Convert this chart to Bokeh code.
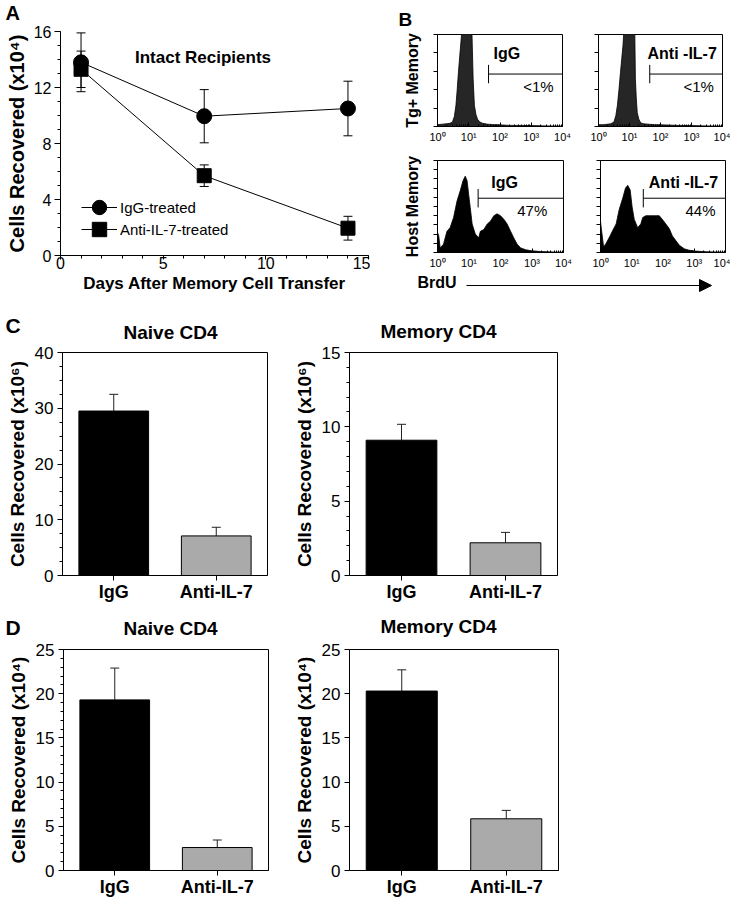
from bokeh.plotting import figure
from bokeh.layouts import row, column
from bokeh.models import (Range1d, FactorRange, SingleIntervalTicker, FixedTicker, Whisker, TeeHead,
                          Label, Legend, LegendItem, Arrow, NormalHead, ColumnDataSource,
                          CustomJSTickFormatter)
from bokeh.embed import file_html
from bokeh.resources import INLINE

FONT = "Liberation Sans"

# ---------------- data ----------------
# Panel A
days = [1, 7, 14]
igg_mean = [13.8, 9.95, 10.5]
igg_err = [2.1, 1.9, 1.95]
anti_mean = [13.3, 5.7, 1.95]
anti_err = [1.3, 0.77, 0.85]

# Panel B histograms (log10 BrdU, relative count)
tg_igg_log = [0, 0.15, 0.3, 0.4, 0.48, 0.54, 0.59, 0.63, 0.67, 0.71, 0.75, 0.78, 0.9, 1.0, 1.1, 1.14, 1.18,
              1.23, 1.28, 1.35, 1.44, 1.6, 1.8, 2.0, 2.3, 2.6, 3.0, 3.5, 4.0]
tg_igg_h = [0.02, 0.025, 0.03, 0.035, 0.05, 0.11, 0.23, 0.4, 0.59, 0.76, 0.92, 1.05, 1.6, 1.6, 1.05, 0.52, 0.23,
            0.13, 0.08, 0.05, 0.035, 0.025, 0.02, 0.018, 0.012, 0.012, 0.01, 0.006, 0.004]
tg_anti_log = [0, 0.15, 0.3, 0.4, 0.5, 0.56, 0.61, 0.66, 0.71, 0.75, 0.79, 0.82, 0.95, 1.05, 1.17, 1.19, 1.22,
               1.25, 1.3, 1.36, 1.45, 1.6, 1.8, 2.0, 2.3, 2.6, 3.0, 3.5, 4.0]
tg_anti_h = [0.02, 0.02, 0.025, 0.03, 0.05, 0.12, 0.23, 0.4, 0.59, 0.74, 0.88, 1.05, 1.6, 1.6, 1.05, 0.52, 0.3,
             0.15, 0.08, 0.04, 0.03, 0.025, 0.02, 0.018, 0.015, 0.012, 0.01, 0.006, 0.004]
host_igg_log = [0, 0.04, 0.085, 0.19, 0.30, 0.40, 0.51, 0.62, 0.72, 0.81, 0.88, 0.94, 0.99, 1.04, 1.10, 1.20,
                1.31, 1.36, 1.47, 1.58, 1.68, 1.79, 1.89, 2.0, 2.11, 2.21, 2.32, 2.42, 2.53, 2.64, 2.80, 2.96,
                3.3, 3.7, 4.0]
host_igg_h = [0.22, 0.18, 0.05, 0.09, 0.23, 0.27, 0.38, 0.56, 0.67, 0.78, 0.83, 0.78, 0.63, 0.49, 0.31, 0.2,
              0.16, 0.23, 0.25, 0.31, 0.34, 0.40, 0.42, 0.40, 0.36, 0.31, 0.23, 0.16, 0.09, 0.05, 0.03, 0.02,
              0.01, 0.005, 0.003]
host_anti_log = [0, 0.03, 0.1, 0.18, 0.29, 0.39, 0.5, 0.6, 0.71, 0.8, 0.87, 0.95, 1.01, 1.08, 1.19, 1.29, 1.35,
                 1.45, 1.56, 1.72, 1.88, 1.98, 2.09, 2.2, 2.3, 2.41, 2.52, 2.68, 2.83, 3.05, 3.4, 4.0]
host_anti_h = [0.34, 0.25, 0.06, 0.1, 0.17, 0.24, 0.31, 0.47, 0.59, 0.70, 0.73, 0.68, 0.5, 0.36, 0.27, 0.31, 0.38,
               0.40, 0.40, 0.40, 0.40, 0.36, 0.31, 0.26, 0.18, 0.13, 0.08, 0.04, 0.025, 0.015, 0.008, 0.003]
hist_names = ["IgG", "Anti -IL-7", "IgG", "Anti -IL-7"]
hist_pcts = ["<1%", "<1%", "47%", "44%"]
gate_brdu = [43, 45, 19.5, 23.4]
gate_level = [0.57, 0.57, 0.59, 0.59]
decade_ticks = [1, 10, 100, 1000, 10000]
decade_labels = ["10\u2070", "10\u00b9", "10\u00b2", "10\u00b3", "10\u2074"]

# Panels C / D
treatments = ["IgG", "Anti-IL-7"]
bar_colors = ["#000000", "#aaaaaa"]
c_naive = [29.5, 7.1]
c_naive_err = [3.0, 1.55]
c_memory = [9.1, 2.2]
c_memory_err = [1.07, 0.7]
d_naive = [19.3, 2.6]
d_naive_err = [3.6, 0.85]
d_memory = [20.3, 5.85]
d_memory_err = [2.4, 0.95]

REF = {}


def make_fig(fl, fr, ft, fb, left, right, top, bottom, **kw):
    """fl/fr/ft/fb: frame edges in page px; left..bottom: borders"""
    p = figure(frame_width=int(round(fr - fl)), frame_height=int(round(fb - ft)),
               min_border_left=int(left), min_border_right=int(right),
               min_border_top=int(top), min_border_bottom=int(bottom), toolbar_location=None,
               output_backend="svg", **kw)
    p.grid.visible = False
    p.background_fill_color = "white"
    p.border_fill_color = "white"
    REF[p.id] = (fl, fb)
    return p


def text(p, xr, yr, txt, size, bold=False, align="left", baseline="middle"):
    """label inside a frame, given in page px"""
    fl, fb = REF[p.id]
    p.add_layout(Label(x=xr - fl, y=fb - yr, x_units="screen", y_units="screen", text=txt,
                       text_font=FONT, text_font_size=f"{size}px",
                       text_font_style="bold" if bold else "normal",
                       text_align=align, text_baseline=baseline, text_color="black"))


def header(x0, x1, y0, y1):
    """blank strip whose data coordinates are page pixels"""
    f = figure(width=x1 - x0, height=y1 - y0, x_range=Range1d(x0, x1), y_range=Range1d(y1, y0),
               min_border=0, toolbar_location=None, output_backend="svg",
               x_axis_location=None, y_axis_location=None)
    f.grid.visible = False
    f.outline_line_color = None
    return f


def htext(f, x, y, txt, size, bold=True, align="left"):
    f.add_layout(Label(x=x, y=y, text=txt, text_font=FONT, text_font_size=f"{size}px",
                       text_font_style="bold" if bold else "normal", text_align=align,
                       text_baseline="middle", text_color="black"))


def style_axis(ax, tick_size="16px", label_size="18px"):
    ax.axis_line_color = "black"
    ax.major_tick_line_color = "black"
    ax.minor_tick_line_color = "black"
    ax.major_label_text_font = FONT
    ax.major_label_text_font_size = tick_size
    ax.major_label_text_color = "black"
    ax.axis_label_text_font = FONT
    ax.axis_label_text_font_size = label_size
    ax.axis_label_text_font_style = "bold"
    ax.axis_label_text_color = "black"


# ---------------- Panel A ----------------
hdrA = header(0, 370, 0, 25)
htext(hdrA, 5, 12.5, "A", 20)

pA = make_fig(60, 368, 31, 255, 60, 2, 6, 45, x_range=Range1d(0, 15), y_range=Range1d(0, 16))
pA.outline_line_color = None
style_axis(pA.xaxis[0], "16px", "17px")
style_axis(pA.yaxis[0], "16px", "20px")
pA.xaxis.ticker = SingleIntervalTicker(interval=5, num_minor_ticks=5)
pA.yaxis.ticker = SingleIntervalTicker(interval=4, num_minor_ticks=4)
for ax in (pA.xaxis[0], pA.yaxis[0]):
    ax.major_tick_in = 0
    ax.minor_tick_in = 0
    ax.minor_tick_out = 3
pA.xaxis.major_tick_out = 4
pA.xaxis.major_label_standoff = -3
pA.xaxis.axis_label_standoff = 2
pA.yaxis.major_tick_out = 6
pA.yaxis.major_label_standoff = 3
pA.yaxis.axis_label_standoff = 3
pA.xaxis.axis_label = "Days After Memory Cell Transfer"
pA.yaxis.axis_label = "Cells Recovered (x10\u2074)"

srcA1 = ColumnDataSource(dict(x=days, y=igg_mean,
                              lo=[m - e for m, e in zip(igg_mean, igg_err)],
                              hi=[m + e for m, e in zip(igg_mean, igg_err)]))
srcA2 = ColumnDataSource(dict(x=days, y=anti_mean,
                              lo=[m - e for m, e in zip(anti_mean, anti_err)],
                              hi=[m + e for m, e in zip(anti_mean, anti_err)]))
for s in (srcA1, srcA2):
    pA.add_layout(Whisker(source=s, base="x", lower="lo", upper="hi", line_color="black", line_width=1,
                          upper_head=TeeHead(size=9, line_color="black"),
                          lower_head=TeeHead(size=9, line_color="black")))
l1 = pA.line("x", "y", source=srcA1, line_color="black", line_width=1)
m1 = pA.scatter("x", "y", source=srcA1, marker="circle", size=15, color="black")
l2 = pA.line("x", "y", source=srcA2, line_color="black", line_width=1)
m2 = pA.scatter("x", "y", source=srcA2, marker="square", size=14, color="black")
for lab, rends, loc in (("IgG-treated", [l1, m1], (21, 30)), ("Anti-IL-7-treated", [l2, m2], (21, 8))):
    pA.add_layout(Legend(items=[LegendItem(label=lab, renderers=rends)], location=loc,
                         glyph_width=36, glyph_height=36, padding=0, margin=0, label_standoff=3,
                         background_fill_alpha=0, border_line_color=None, label_text_font=FONT,
                         label_text_font_size="15px", label_text_color="black"))
text(pA, 202.5, 56.5, "Intact Recipients", 17, bold=True, align="center")

# ---------------- Panel B ----------------
hdrB = header(370, 730, 0, 30)
htext(hdrB, 398, 18.5, "B", 19)

hist_data = [(tg_igg_log, tg_igg_h), (tg_anti_log, tg_anti_h), (host_igg_log, host_igg_h),
             (host_anti_log, host_anti_h)]
hist_geom = [
    # frame l, r, t, b ; borders left, right, top, bottom
    (437, 562, 34, 126, 67, 18, 4, 24),
    (598, 722, 34, 126, 18, 8, 4, 24),
    (437, 563, 160, 252, 67, 17, 10, 20),
    (600, 725, 160, 252, 20, 5, 10, 20),
]
hist_fill = ["#262626", "#262626", "#000000", "#000000"]
hist_ylabel = ["Tg+ Memory", None, "Host Memory", None]
hist_text_pos = [((493, 53), (522.7, 86)), ((647, 53), (683, 86)),
                 ((490.7, 181.7), (516.7, 210)), ((648.3, 181.7), (685, 210))]
hists = []
for i in range(4):
    fl, fr, ft, fb, bl, br, bt, bb = hist_geom[i]
    h = make_fig(fl, fr, ft, fb, bl, br, bt, bb, x_axis_type="log",
                 x_range=Range1d(1, 10000), y_range=Range1d(0, 1))
    h.outline_line_color = "black"
    style_axis(h.xaxis[0], "11px", "16px")
    style_axis(h.yaxis[0], "10px", "16px")
    h.xaxis.ticker = FixedTicker(ticks=decade_ticks,
                                 minor_ticks=[m * t for t in decade_ticks[:-1] for m in range(2, 10)])
    h.xaxis.major_label_overrides = dict(zip(decade_ticks, decade_labels))
    h.xaxis.major_tick_in = 4
    h.xaxis.major_tick_out = 0
    h.xaxis.minor_tick_in = 2
    h.xaxis.minor_tick_out = 0
    h.xaxis.major_label_standoff = 4
    h.yaxis.ticker = SingleIntervalTicker(interval=0.2 if i < 2 else 0.1, num_minor_ticks=0)
    h.yaxis.formatter = CustomJSTickFormatter(code="return ''")
    h.yaxis.major_tick_in = 0
    h.yaxis.major_tick_out = 4
    h.yaxis.major_label_standoff = 0
    h.yaxis.axis_label_standoff = 13
    if hist_ylabel[i]:
        h.yaxis.axis_label = hist_ylabel[i]
    lg, hv = hist_data[i]
    h.varea(x=[10 ** v for v in lg], y1=[0] * len(lg), y2=hv, fill_color=hist_fill[i])
    h.line(x=[10 ** v for v in lg], y=hv, line_color="black", line_width=0.8)
    g = gate_brdu[i]
    gy = gate_level[i]
    h.segment(x0=[g, g], y0=[gy, gy - 0.1], x1=[10000, g], y1=[gy, gy + 0.1], line_color="black",
              line_width=1)
    (nx, ny), (px, py) = hist_text_pos[i]
    text(h, nx, ny, hist_names[i], 16, bold=True)
    text(h, px, py, hist_pcts[i], 15)
    hists.append(h)

strip = header(370, 730, 272, 300)
htext(strip, 417, 281.5, "BrdU", 16)
strip.add_layout(Arrow(x_start=466, y_start=285, x_end=711, y_end=285, line_color="black", line_width=1,
                       end=NormalHead(size=12, fill_color="black", line_color="black")))

colA = column(hdrA, row(pA))
colB = column(hdrB, row(hists[0], hists[1]), row(hists[2], hists[3]), strip)


# ---------------- Panels C / D ----------------
def bar_panel(vals, errs, ymax, interval, minor, geom, ylab):
    fl, fr, ft, fb, bl, br, bt, bb = geom
    p = make_fig(fl, fr, ft, fb, bl, br, bt, bb, x_range=FactorRange(*treatments, range_padding=0),
                 y_range=Range1d(0, ymax))
    p.outline_line_color = "black"
    style_axis(p.xaxis[0], "18px", "19px")
    style_axis(p.yaxis[0], "17px", "19px")
    p.xaxis.major_label_text_font_style = "bold"
    p.yaxis.ticker = SingleIntervalTicker(interval=interval, num_minor_ticks=minor)
    if minor == 0:
        p.yaxis.minor_tick_line_color = None
    for ax in (p.xaxis[0], p.yaxis[0]):
        ax.major_tick_in = 0
        ax.major_tick_out = 5
        ax.minor_tick_in = 0
        ax.minor_tick_out = 3
        ax.axis_label_standoff = 4
    p.xaxis.major_label_standoff = 1
    p.yaxis.major_label_standoff = 4
    p.yaxis.axis_label = ylab
    src = ColumnDataSource(dict(x=treatments, top=vals, hi=[v + e for v, e in zip(vals, errs)],
                                c=bar_colors))
    p.add_layout(Whisker(source=src, base="x", lower="top", upper="hi", line_color="#222222",
                         line_width=1, upper_head=TeeHead(size=9, line_color="#222222"), lower_head=None))
    p.vbar(x="x", top="top", width=0.68, source=src, fill_color="c", line_color="black", line_width=1)
    return p


hdrC = header(0, 730, 300, 342)
htext(hdrC, 5, 325, "C", 21)
htext(hdrC, 170, 331.5, "Naive CD4", 19, align="center")
htext(hdrC, 438, 331, "Memory CD4", 19, align="center")

pC1 = bar_panel(c_naive, c_naive_err, 40, 10, 4, (62, 267, 352, 575, 62, 23, 10, 28),
                "Cells Recovered (x10\u2076)")
pC2 = bar_panel(c_memory, c_memory_err, 15, 5, 5, (343, 551, 352, 575, 53, 10, 10, 28),
                "Cells Recovered (x10\u2076)")

hdrD = header(0, 730, 603, 638)
htext(hdrD, 5, 625.5, "D", 21)
htext(hdrD, 170, 626.5, "Naive CD4", 19, align="center")
htext(hdrD, 438, 625, "Memory CD4", 19, align="center")

pD1 = bar_panel(d_naive, d_naive_err, 25, 5, 5, (63, 268, 648, 869, 63, 22, 10, 29),
                "Cells Recovered (x10\u2074)")
pD2 = bar_panel(d_memory, d_memory_err, 25, 5, 0, (343, 552, 648, 869, 53, 10, 10, 29),
                "Cells Recovered (x10\u2074)")

layout = column(row(colA, colB), hdrC, row(pC1, pC2), hdrD, row(pD1, pD2))

open("out.html", "w").write(file_html(layout, INLINE))
